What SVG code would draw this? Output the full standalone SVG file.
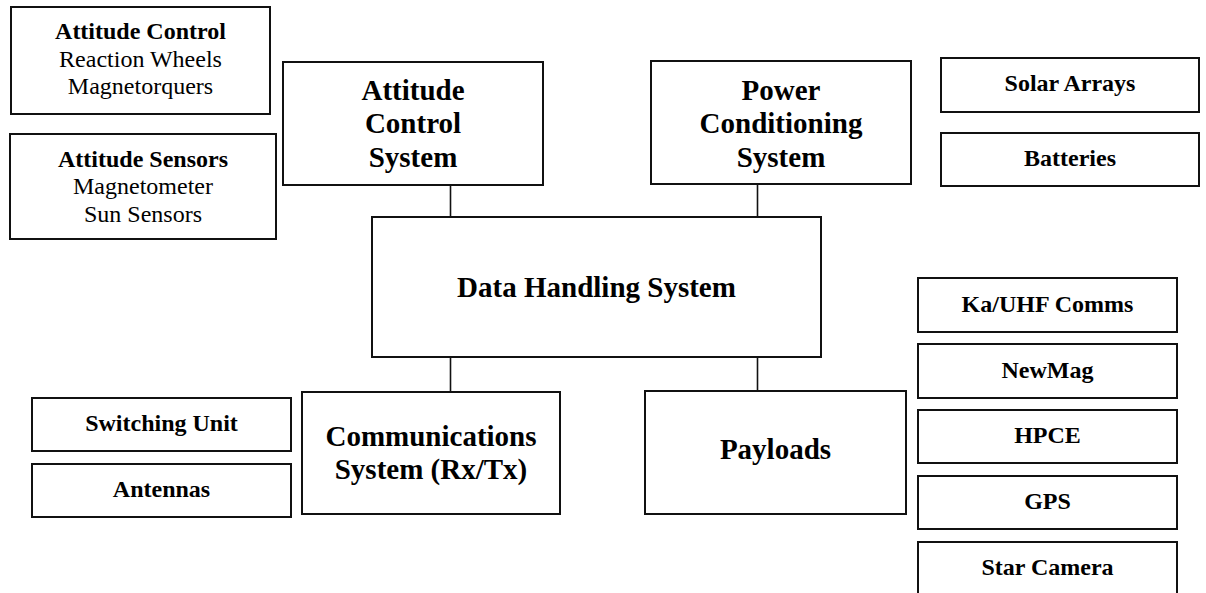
<svg xmlns="http://www.w3.org/2000/svg" width="1206" height="593" viewBox="0 0 1206 593">
  <style>
    .box { fill: #ffffff; stroke: #111111; stroke-width: 2; }
    .link { stroke: #111111; stroke-width: 1.6; fill: none; }
    text { font-family: "Liberation Serif", "Times New Roman", serif; fill: #000000; text-anchor: middle; }
    .big { font-size: 29px; font-weight: bold; }
    .hd { font-size: 24px; font-weight: bold; }
    .sub { font-size: 24px; }
  </style>
  <rect width="1206" height="593" fill="#ffffff"/>

  <!-- connectors between the data handling system and the subsystems -->
  <g id="connectors">
    <line class="link" x1="450.5" y1="185" x2="450.5" y2="217"/>
    <line class="link" x1="757.5" y1="184" x2="757.5" y2="217"/>
    <line class="link" x1="450.5" y1="357" x2="450.5" y2="392"/>
    <line class="link" x1="757.5" y1="357" x2="757.5" y2="391"/>
  </g>

  <!-- left column: attitude hardware -->
  <g id="attitude-control">
    <rect class="box" x="11" y="7" width="259" height="107"/>
    <text class="hd" x="140.5" y="39">Attitude Control</text>
    <text class="sub" x="140.5" y="67">Reaction Wheels</text>
    <text class="sub" x="140.5" y="94">Magnetorquers</text>
  </g>
  <g id="attitude-sensors">
    <rect class="box" x="10" y="134" width="266" height="105"/>
    <text class="hd" x="143" y="167">Attitude Sensors</text>
    <text class="sub" x="143" y="194">Magnetometer</text>
    <text class="sub" x="143" y="222">Sun Sensors</text>
  </g>

  <!-- upper subsystems -->
  <g id="attitude-control-system">
    <rect class="box" x="283" y="62" width="260" height="123"/>
    <text class="big" x="413" y="100">Attitude</text>
    <text class="big" x="413" y="133">Control</text>
    <text class="big" x="413" y="167">System</text>
  </g>
  <g id="power-conditioning-system">
    <rect class="box" x="651" y="61" width="260" height="123"/>
    <text class="big" x="781" y="100">Power</text>
    <text class="big" x="781" y="133">Conditioning</text>
    <text class="big" x="781" y="167">System</text>
  </g>

  <!-- power hardware -->
  <g id="solar-arrays">
    <rect class="box" x="941" y="58" width="258" height="54"/>
    <text class="hd" x="1070" y="91">Solar Arrays</text>
  </g>
  <g id="batteries">
    <rect class="box" x="941" y="133" width="258" height="53"/>
    <text class="hd" x="1070" y="166">Batteries</text>
  </g>

  <!-- central node -->
  <g id="data-handling-system">
    <rect class="box" x="372" y="217" width="449" height="140"/>
    <text class="big" x="596.5" y="297">Data Handling System</text>
  </g>

  <!-- lower subsystems -->
  <g id="communications-system">
    <rect class="box" x="302" y="392" width="258" height="122"/>
    <text class="big" x="431" y="446">Communications</text>
    <text class="big" x="431" y="479">System (Rx/Tx)</text>
  </g>
  <g id="payloads">
    <rect class="box" x="645" y="391" width="261" height="123"/>
    <text class="big" x="775.5" y="459">Payloads</text>
  </g>

  <!-- communications hardware -->
  <g id="switching-unit">
    <rect class="box" x="32" y="398" width="259" height="53"/>
    <text class="hd" x="161.5" y="431">Switching Unit</text>
  </g>
  <g id="antennas">
    <rect class="box" x="32" y="464" width="259" height="53"/>
    <text class="hd" x="161.5" y="497">Antennas</text>
  </g>

  <!-- payload instruments -->
  <g id="ka-uhf-comms">
    <rect class="box" x="918" y="278" width="259" height="54"/>
    <text class="hd" x="1047.5" y="312">Ka/UHF Comms</text>
  </g>
  <g id="newmag">
    <rect class="box" x="918" y="344" width="259" height="54"/>
    <text class="hd" x="1047.5" y="378">NewMag</text>
  </g>
  <g id="hpce">
    <rect class="box" x="918" y="410" width="259" height="53"/>
    <text class="hd" x="1047.5" y="443">HPCE</text>
  </g>
  <g id="gps">
    <rect class="box" x="918" y="476" width="259" height="53"/>
    <text class="hd" x="1047.5" y="509">GPS</text>
  </g>
  <g id="star-camera">
    <rect class="box" x="918" y="542" width="259" height="70"/>
    <text class="hd" x="1047.5" y="575">Star Camera</text>
  </g>
</svg>
